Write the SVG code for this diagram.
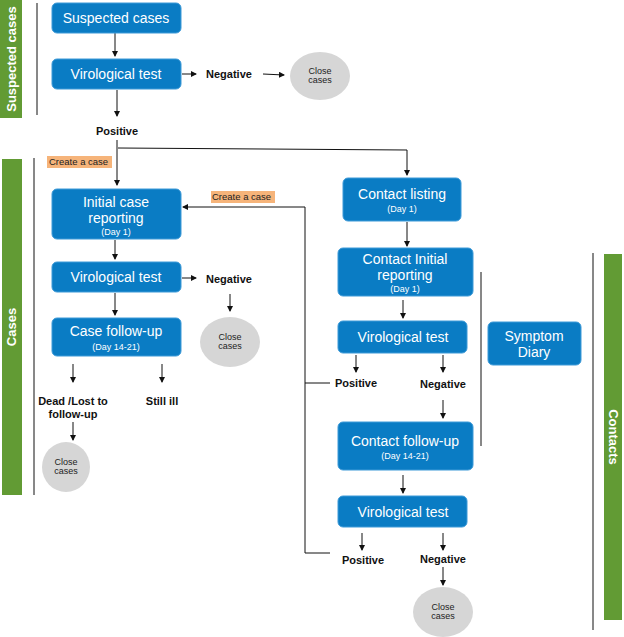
<svg xmlns="http://www.w3.org/2000/svg" width="624" height="637" viewBox="0 0 624 637">
<style>
.box{fill:#0a7cc4;stroke:#3d9ad8;stroke-width:1}
.bt{fill:#fff;font-family:"Liberation Sans",Arial,sans-serif;font-size:14px;text-anchor:middle}
.st{fill:#fff;font-family:"Liberation Sans",Arial,sans-serif;font-size:9px;text-anchor:middle}
.lbl{fill:#111;font-family:"Liberation Sans",Arial,sans-serif;font-size:11px;font-weight:bold;text-anchor:middle}
.cl{fill:#d6d6d6}
.ct{fill:#222;font-family:"Liberation Sans",Arial,sans-serif;font-size:9px;text-anchor:middle}
.bar{fill:#629b34}
.bl{fill:#fff;font-family:"Liberation Sans",Arial,sans-serif;font-size:13px;font-weight:bold;text-anchor:middle}
.org{fill:#f6b47a}
.ot{fill:#222;font-family:"Liberation Sans",Arial,sans-serif;font-size:9.5px}
.ln{fill:none;stroke:#111;stroke-width:1}
.ar{fill:none;stroke:#111;stroke-width:1;marker-end:url(#a)}
</style>
<defs><marker id="a" markerWidth="6" markerHeight="6" refX="5" refY="3" orient="auto" markerUnits="userSpaceOnUse"><path d="M0,0 L6,3 L0,6 z" fill="#111"/></marker></defs>
<rect width="624" height="637" fill="#fff"/>
<g id="sections">
<rect class="bar" x="0" y="0" width="22" height="118"/>
<text class="bl" transform="translate(16,59) rotate(-90)">Suspected cases</text>
<rect class="bar" x="2" y="159" width="20" height="336"/>
<text class="bl" transform="translate(16,327) rotate(-90)">Cases</text>
<rect class="bar" x="604" y="254" width="18" height="366"/>
<text class="bl" transform="translate(609,437) rotate(90)">Contacts</text>
<path class="ln" d="M37,3V115 M34,158V495 M481,272V446 M593,253V630"/>
</g>
<g id="connectors">
<path class="ar" d="M115,33V56"/>
<path class="ar" d="M182,74H196"/>
<path class="ar" d="M263,74L284,75"/>
<path class="ar" d="M117,90V116"/>
<path class="ar" d="M117,140V185"/>
<path class="ar" d="M118,148L407,150V175"/>
<path class="ar" d="M330,383H305V207H183"/>
<path class="ln" d="M305,383V553H330"/>
<path class="ar" d="M115,240V259"/>
<path class="ar" d="M182,278H196"/>
<path class="ar" d="M230,294V311"/>
<path class="ar" d="M115,293V315"/>
<path class="ar" d="M73,364V382"/>
<path class="ar" d="M162,364V382"/>
<path class="ar" d="M73,422V440"/>
<path class="ar" d="M407,222V246"/>
<path class="ar" d="M403,300V318"/>
<path class="ar" d="M356,355V372"/>
<path class="ar" d="M443,355V372"/>
<path class="ar" d="M443,400V418"/>
<path class="ar" d="M403,475V493"/>
<path class="ar" d="M362,533V550"/>
<path class="ar" d="M443,533V550"/>
<path class="ar" d="M443,567V585"/>
</g>
<g id="n-suspected"><rect class="box" x="52" y="3" width="129" height="30" rx="5"/><text class="bt" x="116" y="23">Suspected cases</text></g>
<g id="n-vt1"><rect class="box" x="52" y="59" width="129" height="30" rx="5"/><text class="bt" x="116" y="79">Virological test</text></g>
<g id="l-neg1"><text class="lbl" x="229" y="78">Negative</text></g>
<g id="n-close1"><ellipse class="cl" cx="320" cy="76" rx="30" ry="24"/><text class="ct" x="320" y="74">Close</text><text class="ct" x="320" y="83">cases</text></g>
<g id="l-pos1"><text class="lbl" x="117" y="135">Positive</text></g>
<g id="l-create1"><rect class="org" x="47" y="156" width="65" height="12"/><text class="ot" x="49" y="165">Create a case</text></g>
<g id="l-create2"><rect class="org" x="211" y="191" width="64" height="12"/><text class="ot" x="212" y="200">Create a case</text></g>
<g id="n-initial"><rect class="box" x="52" y="189" width="129" height="50" rx="5"/><text class="bt" x="116" y="207">Initial case</text><text class="bt" x="116" y="223">reporting</text><text class="st" x="116" y="235">(Day 1)</text></g>
<g id="n-vt2"><rect class="box" x="52" y="262" width="129" height="30" rx="5"/><text class="bt" x="116" y="282">Virological test</text></g>
<g id="l-neg2"><text class="lbl" x="229" y="283">Negative</text></g>
<g id="n-close2"><ellipse class="cl" cx="230" cy="342" rx="30" ry="25"/><text class="ct" x="230" y="340">Close</text><text class="ct" x="230" y="349">cases</text></g>
<g id="n-cfu"><rect class="box" x="52" y="318" width="129" height="38" rx="5"/><text class="bt" x="116" y="336">Case follow-up</text><text class="st" x="116" y="350">(Day 14-21)</text></g>
<g id="l-dead"><text class="lbl" x="73" y="405">Dead /Lost to</text><text class="lbl" x="73" y="418">follow-up</text></g>
<g id="l-still"><text class="lbl" x="162" y="405">Still ill</text></g>
<g id="n-close3"><ellipse class="cl" cx="66" cy="467" rx="24" ry="25"/><text class="ct" x="66" y="465">Close</text><text class="ct" x="66" y="474">cases</text></g>
<g id="n-listing"><rect class="box" x="343" y="178" width="118" height="43" rx="5"/><text class="bt" x="402" y="199">Contact listing</text><text class="st" x="402" y="212">(Day 1)</text></g>
<g id="n-cinit"><rect class="box" x="338" y="248" width="135" height="48" rx="5"/><text class="bt" x="405" y="264">Contact Initial</text><text class="bt" x="405" y="280">reporting</text><text class="st" x="405" y="292">(Day 1)</text></g>
<g id="n-vt3"><rect class="box" x="338" y="321" width="129" height="32" rx="5"/><text class="bt" x="403" y="342">Virological test</text></g>
<g id="l-pos3"><text class="lbl" x="356" y="387">Positive</text></g>
<g id="l-neg3"><text class="lbl" x="443" y="388">Negative</text></g>
<g id="n-diary"><rect class="box" x="488" y="322" width="93" height="43" rx="5"/><text class="bt" x="534" y="341">Symptom</text><text class="bt" x="534" y="357">Diary</text></g>
<g id="n-contfu"><rect class="box" x="338" y="422" width="135" height="48" rx="5"/><text class="bt" x="405" y="446">Contact follow-up</text><text class="st" x="405" y="459">(Day 14-21)</text></g>
<g id="n-vt4"><rect class="box" x="338" y="496" width="129" height="31" rx="5"/><text class="bt" x="403" y="517">Virological test</text></g>
<g id="l-pos4"><text class="lbl" x="363" y="564">Positive</text></g>
<g id="l-neg4"><text class="lbl" x="443" y="563">Negative</text></g>
<g id="n-close4"><ellipse class="cl" cx="443" cy="612" rx="30" ry="25"/><text class="ct" x="443" y="610">Close</text><text class="ct" x="443" y="619">cases</text></g>
</svg>
